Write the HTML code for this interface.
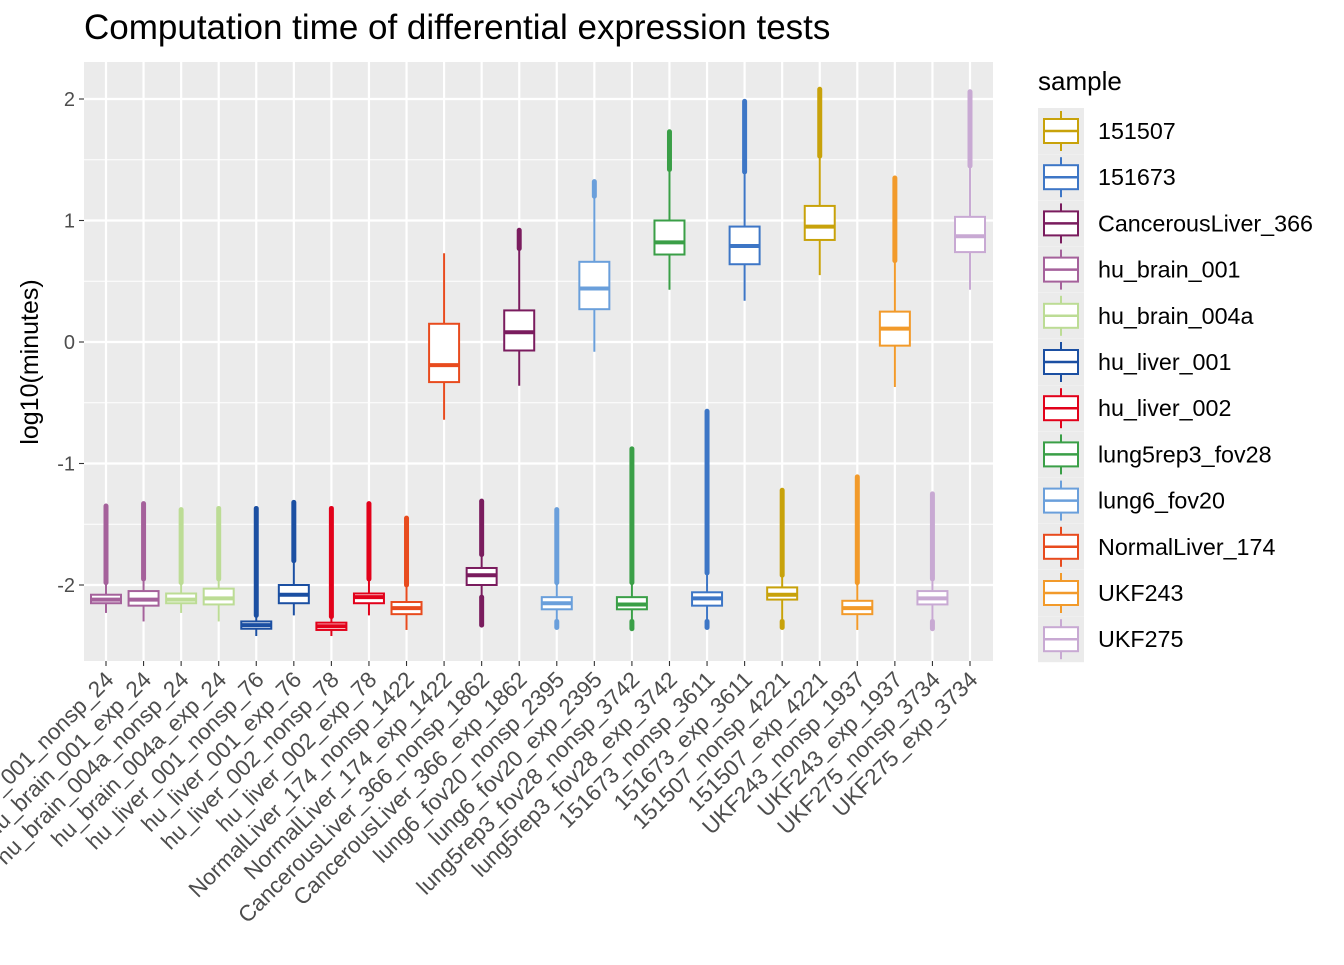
<!DOCTYPE html>
<html><head><meta charset="utf-8"><style>
body{margin:0;background:#fff;font-family:"Liberation Sans",Arial,sans-serif;}
svg text{font-family:"Liberation Sans",Arial,sans-serif;}
</style></head><body>
<svg id="chart" width="1344" height="960" xmlns="http://www.w3.org/2000/svg">
<text x="84" y="39" font-size="35" fill="#000">Computation time of differential expression tests</text>
<rect x="84" y="62" width="909" height="599" fill="#EBEBEB"/>
<g id="grid"></g><g id="marks"></g><g id="axes"></g><g id="legend"></g>
<text transform="translate(38,362) rotate(-90)" text-anchor="middle" font-size="25" fill="#000">log10(minutes)</text>
</svg>
<script>
const categories=["hu_brain_001_nonsp_24","hu_brain_001_exp_24","hu_brain_004a_nonsp_24","hu_brain_004a_exp_24","hu_liver_001_nonsp_76","hu_liver_001_exp_76","hu_liver_002_nonsp_78","hu_liver_002_exp_78","NormalLiver_174_nonsp_1422","NormalLiver_174_exp_1422","CancerousLiver_366_nonsp_1862","CancerousLiver_366_exp_1862","lung6_fov20_nonsp_2395","lung6_fov20_exp_2395","lung5rep3_fov28_nonsp_3742","lung5rep3_fov28_exp_3742","151673_nonsp_3611","151673_exp_3611","151507_nonsp_4221","151507_exp_4221","UKF243_nonsp_1937","UKF243_exp_1937","UKF275_nonsp_3734","UKF275_exp_3734"];
const sampleOf=["hu_brain_001","hu_brain_001","hu_brain_004a","hu_brain_004a","hu_liver_001","hu_liver_001","hu_liver_002","hu_liver_002","NormalLiver_174","NormalLiver_174","CancerousLiver_366","CancerousLiver_366","lung6_fov20","lung6_fov20","lung5rep3_fov28","lung5rep3_fov28","151673","151673","151507","151507","UKF243","UKF243","UKF275","UKF275"];
const q1=[-2.15,-2.17,-2.15,-2.16,-2.36,-2.15,-2.37,-2.15,-2.24,-0.33,-2.0,-0.07,-2.2,0.27,-2.2,0.72,-2.17,0.64,-2.12,0.84,-2.24,-0.03,-2.16,0.74];
const med=[-2.12,-2.12,-2.12,-2.11,-2.33,-2.08,-2.34,-2.1,-2.19,-0.19,-1.92,0.08,-2.15,0.44,-2.16,0.82,-2.11,0.79,-2.08,0.95,-2.19,0.11,-2.11,0.87];
const q3=[-2.08,-2.05,-2.07,-2.03,-2.3,-2.0,-2.31,-2.07,-2.14,0.15,-1.86,0.26,-2.1,0.66,-2.1,1.0,-2.06,0.95,-2.02,1.12,-2.13,0.25,-2.05,1.03];
const whiskLo=[-2.23,-2.3,-2.23,-2.3,-2.42,-2.25,-2.42,-2.25,-2.37,-0.64,-2.1,-0.36,-2.3,-0.08,-2.3,0.43,-2.3,0.34,-2.3,0.55,-2.37,-0.37,-2.3,0.43];
const whiskHi=[-1.98,-1.95,-1.98,-1.95,-2.25,-1.8,-2.26,-1.95,-2.0,0.73,-1.75,0.77,-1.98,1.2,-1.98,1.42,-1.9,1.4,-1.92,1.53,-1.98,0.67,-1.95,1.45];
const outHi=[-1.35,-1.33,-1.38,-1.37,-1.37,-1.32,-1.37,-1.33,-1.45,0.73,-1.31,0.92,-1.38,1.32,-0.88,1.73,-0.57,1.98,-1.22,2.08,-1.11,1.35,-1.25,2.06];
const outLo=[-2.23,-2.3,-2.23,-2.3,-2.42,-2.25,-2.42,-2.25,-2.37,-0.64,-2.33,-0.36,-2.35,-0.08,-2.36,0.43,-2.35,0.34,-2.35,0.55,-2.37,-0.37,-2.36,0.43];
const legendLabels=["151507","151673","CancerousLiver_366","hu_brain_001","hu_brain_004a","hu_liver_001","hu_liver_002","lung5rep3_fov28","lung6_fov20","NormalLiver_174","UKF243","UKF275"];
const legendColors=["#C8A20A","#3D76C6","#7A1C5E","#A5619B","#BCDC95","#1B4FA2","#E2011A","#3A9F47","#6A9FDB","#E84B1E","#F29A2A","#C8A9D3"];
const yTicks=[-2,-1,0,1,2];
const yMinor=[-1.5,-0.5,0.5,1.5];

const NS="http://www.w3.org/2000/svg";
const X0=106,DX=(970-106)/23;
const xs=i=>X0+i*DX;
const ys=v=>342-v*121.5;
function mk(parent,tag,attrs){const e=document.createElementNS(NS,tag);for(const k in attrs)e.setAttribute(k,attrs[k]);document.getElementById(parent).appendChild(e);return e;}
const colorOf=s=>legendColors[legendLabels.indexOf(s)];

yMinor.forEach(v=>{const l=mk("grid","line",{x1:84,x2:993,y1:ys(v),y2:ys(v),stroke:"#fff","stroke-width":1.1});

});
yTicks.forEach(v=>{const l=mk("grid","line",{x1:84,x2:993,y1:ys(v),y2:ys(v),stroke:"#fff","stroke-width":2.2});


const t=mk("axes","text",{x:75,y:ys(v)+7,"text-anchor":"end","font-size":20,fill:"#4D4D4D"});t.textContent=v;


const tk=mk("axes","line",{x1:79,x2:84,y1:ys(v),y2:ys(v),stroke:"#333","stroke-width":1.1});

});
categories.forEach((c,i)=>{const x=xs(i);
const l=mk("grid","line",{x1:x,x2:x,y1:62,y2:661,stroke:"#fff","stroke-width":2.2});


const tk=mk("axes","line",{x1:x,x2:x,y1:661,y2:666,stroke:"#333","stroke-width":1.1});


const t=mk("axes","text",{transform:`translate(${x+9},${681}) rotate(-45)`,"text-anchor":"end","font-size":22.5,fill:"#4D4D4D"});t.textContent=c;


const col=colorOf(sampleOf[i]);const w=30;
const g=mk("marks","g",{});


if(outHi[i]>whiskHi[i]){const o=document.createElementNS(NS,"line");Object.entries({x1:x,x2:x,y1:ys(whiskHi[i]),y2:ys(outHi[i]),stroke:col,"stroke-width":5,"stroke-linecap":"round"}).forEach(([k,v])=>o.setAttribute(k,v));g.appendChild(o);

}
if(outLo[i]<whiskLo[i]){const o=document.createElementNS(NS,"line");Object.entries({x1:x,x2:x,y1:ys(whiskLo[i]),y2:ys(outLo[i]),stroke:col,"stroke-width":5,"stroke-linecap":"round"}).forEach(([k,v])=>o.setAttribute(k,v));g.appendChild(o);

}
const wl=document.createElementNS(NS,"line");Object.entries({x1:x,x2:x,y1:ys(whiskLo[i]),y2:ys(whiskHi[i]),stroke:col,"stroke-width":2}).forEach(([k,v])=>wl.setAttribute(k,v));g.appendChild(wl);


const r=document.createElementNS(NS,"rect");Object.entries({x:x-w/2,y:ys(q3[i]),width:w,height:Math.max(ys(q1[i])-ys(q3[i]),1),fill:"#fff",stroke:col,"stroke-width":2}).forEach(([k,v])=>r.setAttribute(k,v));g.appendChild(r);


const m=document.createElementNS(NS,"line");Object.entries({x1:x-w/2,x2:x+w/2,y1:ys(med[i]),y2:ys(med[i]),stroke:col,"stroke-width":4}).forEach(([k,v])=>m.setAttribute(k,v));g.appendChild(m);


});
const lt=mk("legend","text",{x:1038,y:90,"font-size":26,fill:"#000"});lt.textContent="sample";


legendLabels.forEach((s,k)=>{const cy=131+k*46.2;const col=legendColors[k];
const g=mk("legend","g",{});


const bg=document.createElementNS(NS,"rect");Object.entries({x:1038,y:cy-23,width:46,height:46,fill:"#EBEBEB"}).forEach(([a,v])=>bg.setAttribute(a,v));g.appendChild(bg);
const vl=document.createElementNS(NS,"line");Object.entries({x1:1061,x2:1061,y1:cy-20,y2:cy+20,stroke:col,"stroke-width":2}).forEach(([a,v])=>vl.setAttribute(a,v));g.appendChild(vl);
const r=document.createElementNS(NS,"rect");Object.entries({x:1044,y:cy-12,width:34,height:24,fill:"#fff",stroke:col,"stroke-width":2}).forEach(([a,v])=>r.setAttribute(a,v));g.appendChild(r);
const m=document.createElementNS(NS,"line");Object.entries({x1:1044,x2:1078,y1:cy,y2:cy,stroke:col,"stroke-width":2.5}).forEach(([a,v])=>m.setAttribute(a,v));g.appendChild(m);
const t=document.createElementNS(NS,"text");Object.entries({x:1098,y:cy+8,"font-size":23.3,fill:"#000"}).forEach(([a,v])=>t.setAttribute(a,v));t.textContent=s;g.appendChild(t);


});
</script>
</body></html>
